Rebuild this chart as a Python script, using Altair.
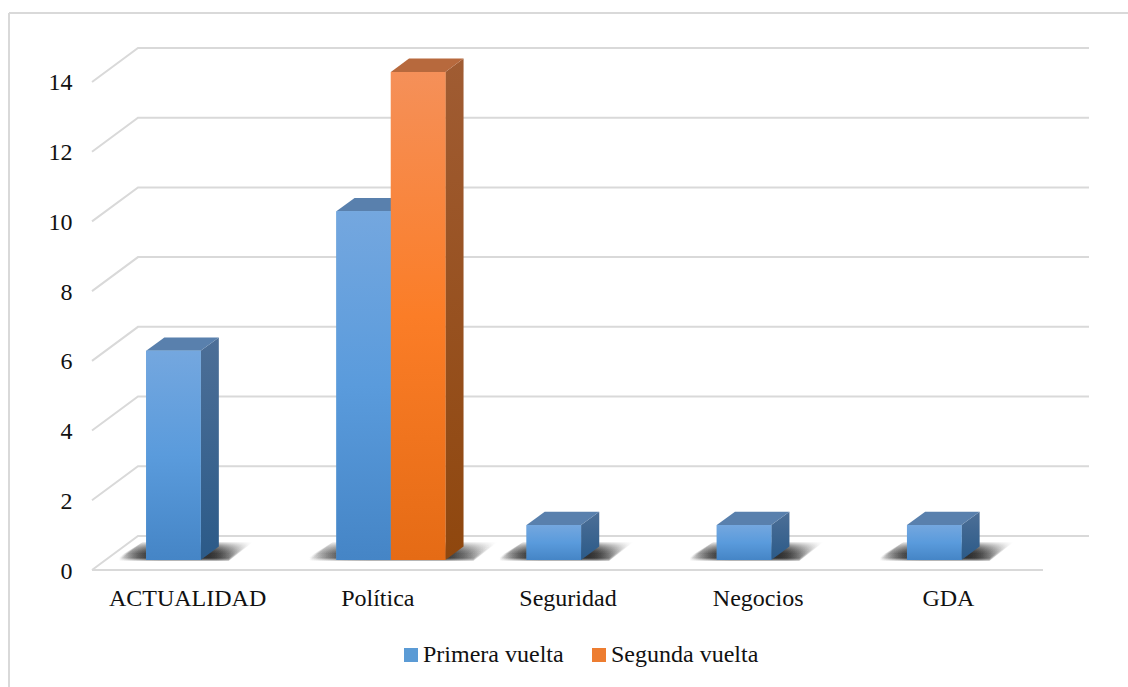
import json

import altair as alt
import pandas as pd

CATEGORIES = ["ACTUALIDAD", "Política", "Seguridad", "Negocios", "GDA"]
SERIES = ["Primera vuelta", "Segunda vuelta"]
PRIMERA = [6, 10, 1, 1, 1]
SEGUNDA = [None, 14, None, None, None]
Y_TICKS = [0, 2, 4, 6, 8, 10, 12, 14]

W, H = 1128, 687
PX_PER_CAT = 190.2
PX_PER_UNIT = 34.86
AXIS_LEFT = 92
AXIS_BASE = 570
FONT = "Liberation Serif"
FONT_SIZE = 24

# Oblique projection: how far the full floor depth shifts things, in data units
DEPTH_X = 46 / PX_PER_CAT
DEPTH_Y = 34 / PX_PER_UNIT
BAR_FRONT = 0.295
BAR_BACK = 0.69
BAR_W = 54.5 / PX_PER_CAT


def vertical(stops):
    return alt.Gradient(
        gradient="linear", x1=0, x2=0, y1=0, y2=1,
        stops=[alt.GradientStop(color=c, offset=o) for o, c in stops],
    )


FRONT = {
    SERIES[0]: vertical([(0, "#74a7df"), (0.5, "#5a9bdc"), (1, "#4585c6")]),
    SERIES[1]: vertical([(0, "#f59059"), (0.5, "#fb7d27"), (1, "#e56b15")]),
}
SIDE = {
    SERIES[0]: vertical([(0, "#4d6f97"), (1, "#2b5a88")]),
    SERIES[1]: vertical([(0, "#a05c33"), (1, "#8f470e")]),
}
TOP = {SERIES[0]: "#5980ad", SERIES[1]: "#b7693d"}
SOLID = ["#5b9bd5", "#ed7d31"]

# Horizontal fade at both ends of the floor shadow
SHADOW_FILL = alt.Gradient(
    gradient="linear", x1=0, x2=1, y1=0, y2=0,
    stops=[
        alt.GradientStop(color="rgba(0,0,0,0)", offset=0),
        alt.GradientStop(color="rgba(0,0,0,0.75)", offset=0.2),
        alt.GradientStop(color="rgba(0,0,0,1)", offset=0.32),
        alt.GradientStop(color="rgba(0,0,0,1)", offset=0.74),
        alt.GradientStop(color="rgba(0,0,0,0)", offset=1),
    ],
)

# Wall and floor lines
grid_rows = []
for v in Y_TICKS:
    grid_rows += [
        {"line": v, "x": 0, "y": v},
        {"line": v, "x": DEPTH_X, "y": v + DEPTH_Y},
        {"line": v, "x": len(CATEGORIES) + DEPTH_X, "y": v + DEPTH_Y},
    ]
grid_rows += [
    {"line": -1, "x": 0, "y": 0},
    {"line": -1, "x": len(CATEGORIES), "y": 0},
]
grid = pd.DataFrame(grid_rows)

# One record per drawn bar
bars = []
for i, cat in enumerate(CATEGORIES):
    for s, (name, values) in enumerate(zip(SERIES, [PRIMERA, SEGUNDA])):
        if values[i] is None:
            continue
        left = i + 0.5 - BAR_W + s * BAR_W + BAR_FRONT * DEPTH_X
        bars.append({
            "bar": f"{cat}-{name}", "cat": cat, "series": name, "value": values[i],
            "x0": left, "x1": left + BAR_W,
            "y0": BAR_FRONT * DEPTH_Y, "y1": values[i] + BAR_FRONT * DEPTH_Y,
        })
bars = pd.DataFrame(bars)
DX = (BAR_BACK - BAR_FRONT) * DEPTH_X
DY = (BAR_BACK - BAR_FRONT) * DEPTH_Y

side_rows, top_rows = [], []
for b in bars.to_dict("records"):
    side_rows += [
        {"bar": b["bar"], "series": b["series"], "x": b["x1"], "lo": b["y0"], "hi": b["y1"]},
        {"bar": b["bar"], "series": b["series"], "x": b["x1"] + DX, "lo": b["y0"] + DY, "hi": b["y1"] + DY},
    ]
    top_rows += [
        {"bar": b["bar"], "series": b["series"], "x": b["x0"], "lo": b["y1"], "hi": b["y1"]},
        {"bar": b["bar"], "series": b["series"], "x": b["x0"] + DX, "lo": b["y1"], "hi": b["y1"] + DY},
        {"bar": b["bar"], "series": b["series"], "x": b["x1"], "lo": b["y1"], "hi": b["y1"] + DY},
        {"bar": b["bar"], "series": b["series"], "x": b["x1"] + DX, "lo": b["y1"] + DY, "hi": b["y1"] + DY},
    ]
side = pd.DataFrame(side_rows)
top = pd.DataFrame(top_rows)

# Soft floor shadow: stacked translucent parallelograms growing upward
SHADOW_STEPS = 12
shadow_rows = []
for cat, g in bars.groupby("cat", sort=False):
    xl, xr = g["x0"].min(), g["x1"].max()
    for k in range(SHADOW_STEPS):
        t = k / (SHADOW_STEPS - 1)
        bottom = g["y0"].iloc[0] + (2 - 3 * t) / PX_PER_UNIT
        rise_px = 5 + 14 * t
        rise = rise_px / PX_PER_UNIT
        shift = rise_px * 18 / 14 / PX_PER_CAT
        a = xl - 28 / PX_PER_CAT
        c = xr + 28 / PX_PER_CAT
        key = f"{cat}-{k}"
        shadow_rows += [
            {"key": key, "x": a, "lo": bottom, "hi": bottom},
            {"key": key, "x": a + shift, "lo": bottom, "hi": bottom + rise},
            {"key": key, "x": c, "lo": bottom, "hi": bottom + rise},
            {"key": key, "x": c + shift, "lo": bottom + rise, "hi": bottom + rise},
        ]
shadow = pd.DataFrame(shadow_rows)

x_scale = alt.Scale(domain=[-AXIS_LEFT / PX_PER_CAT, (W - AXIS_LEFT) / PX_PER_CAT], nice=False, zero=False)
y_scale = alt.Scale(domain=[-(H - AXIS_BASE) / PX_PER_UNIT, AXIS_BASE / PX_PER_UNIT], nice=False, zero=False)

x_axis = alt.Axis(
    title=None, grid=False, domain=False, ticks=False,
    values=[i + 0.5 for i in range(len(CATEGORIES))],
    labelExpr=f"{json.dumps(CATEGORIES, ensure_ascii=False)}[floor(datum.value)]",
    offset=-(H - AXIS_BASE), labelPadding=16,
    labelFont=FONT, labelFontSize=FONT_SIZE, labelColor="#111111", labelOverlap=False, labelFlush=False,
)
y_axis = alt.Axis(
    title=None, grid=False, domain=False, ticks=False, values=Y_TICKS,
    offset=-AXIS_LEFT, labelPadding=20, labelOffset=1, format="d",
    labelFont=FONT, labelFontSize=FONT_SIZE, labelColor="#111111", labelOverlap=False, labelFlush=False,
)


def x_enc(field):
    return alt.X(field, scale=x_scale, axis=x_axis)


def y_enc(field):
    return alt.Y(field, scale=y_scale, axis=y_axis)


grid_layer = alt.Chart(grid).mark_line(color="#d9d9d9", strokeWidth=2).encode(
    x=x_enc("x:Q"), y=y_enc("y:Q"), detail="line:N",
)

shadow_layer = alt.Chart(shadow).mark_area(
    orient="vertical", fill=SHADOW_FILL, opacity=0.13
).encode(x=x_enc("x:Q"), y=y_enc("lo:Q"), y2="hi:Q", detail="key:N")


def faces(series):
    side_part = alt.Chart(side[side["series"] == series]).mark_area(
        orient="vertical", fill=SIDE[series]
    ).encode(x=x_enc("x:Q"), y=y_enc("lo:Q"), y2="hi:Q", detail="bar:N")
    top_part = alt.Chart(top[top["series"] == series]).mark_area(
        orient="vertical", color=TOP[series]
    ).encode(x=x_enc("x:Q"), y=y_enc("lo:Q"), y2="hi:Q", detail="bar:N")
    return [side_part, top_part]


solid_fronts = alt.Chart(bars).mark_rect().encode(
    x=x_enc("x0:Q"), x2="x1:Q", y=y_enc("y0:Q"), y2="y1:Q",
    color=alt.Color(
        "series:N",
        scale=alt.Scale(domain=SERIES, range=SOLID),
        legend=alt.Legend(
            title=None, orient="none", direction="horizontal",
            legendX=399, legendY=643,
            symbolType="square", symbolSize=196, symbolStrokeWidth=0, symbolOpacity=1,
            labelFont=FONT, labelFontSize=FONT_SIZE, labelColor="#111111",
            labelOffset=0, columnPadding=23,
        ),
    ),
)


def front(series):
    return alt.Chart(bars[bars["series"] == series]).mark_rect(fill=FRONT[series]).encode(
        x=x_enc("x0:Q"), x2="x1:Q", y=y_enc("y0:Q"), y2="y1:Q",
    )


# Outer chart frame, open toward the right and bottom page edges
frame_top = alt.Chart(pd.DataFrame({"a": [0]})).mark_rule(color="#d9d9d9", strokeWidth=2).encode(
    x=alt.value(9), x2=alt.value(W), y=alt.value(13)
)
frame_left = alt.Chart(pd.DataFrame({"a": [0]})).mark_rule(color="#d9d9d9", strokeWidth=2).encode(
    x=alt.value(9), y=alt.value(13), y2=alt.value(H)
)

chart = alt.layer(
    frame_top, frame_left, grid_layer, shadow_layer,
    *faces(SERIES[0]), *faces(SERIES[1]),
    solid_fronts, front(SERIES[0]), front(SERIES[1]),
).properties(
    width=W, height=H, padding=0, background="white",
    autosize=alt.AutoSizeParams(type="none"),
).configure_view(stroke=None)

chart.save("out.html", embed_options={"renderer": "svg", "actions": False})
